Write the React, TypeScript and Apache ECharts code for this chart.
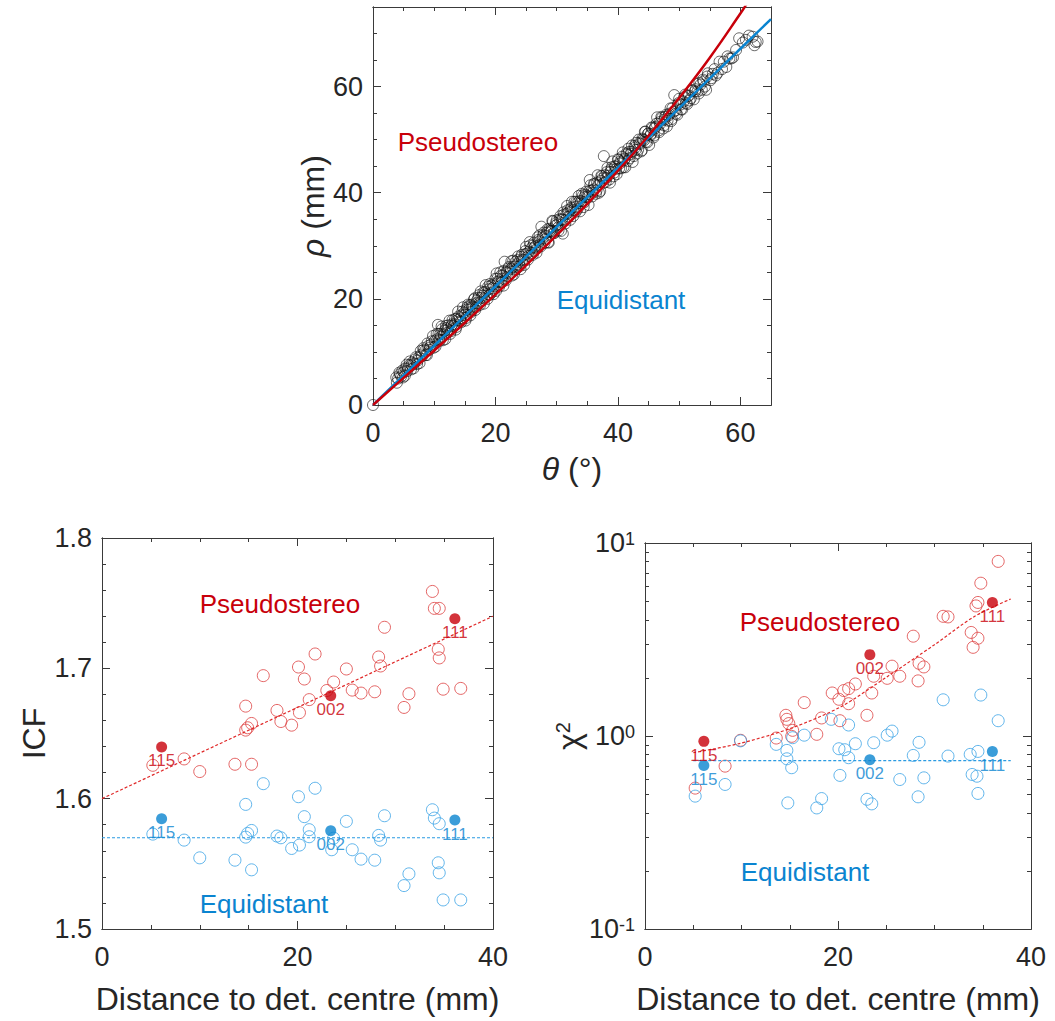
import React, { useEffect, useRef } from 'react';
import * as echarts from 'echarts';

const FONT = '"Liberation Sans", Arial, Helvetica, sans-serif';
const RED = '#C8000A';
const BLUE = '#0A84D0';
const RED_OPEN = '#DD4040';
const BLUE_OPEN = '#3AA2E6';
const AXIS_COLOR = '#3a3a3a';
const TEXT_COLOR = '#262626';
const TICK_FONT = 27;
const NAME_FONT = 32;

// ---------- Top panel: rho vs theta (two measurement passes) ----------
const rhoThetaSamplesA: number[][] = [
  [0, 0],
  [3.8, 5.2], [4.1, 5.0], [4.3, 6.1], [4.6, 5.4], [4.8, 6.5], [5.0, 6.2], [5.2, 5.5], [5.5, 7.6], [5.7, 6.9], [5.9, 7.5],
  [6.2, 6.7], [6.4, 8.0], [6.7, 7.8], [7.0, 9.0], [7.2, 7.7], [7.5, 9.0], [7.8, 10.2], [8.0, 9.2], [8.2, 10.7], [8.5, 10.2],
  [8.8, 9.4], [9.0, 11.1], [9.3, 10.8], [9.6, 12.0], [9.9, 10.8],
  [10.1, 12.1], [10.4, 13.4], [10.6, 15.1], [10.8, 12.3], [11.0, 13.4], [11.2, 14.8], [11.4, 12.2], [11.7, 14.0], [11.9, 14.9],
  [12.1, 13.6], [12.3, 15.0], [12.6, 13.4], [12.8, 14.9], [13.0, 16.0], [13.3, 15.2], [13.5, 14.2], [13.7, 16.3], [13.9, 17.6],
  [14.2, 16.3], [14.4, 15.6], [14.6, 17.6], [14.9, 17.4], [15.1, 15.9], [15.3, 18.0], [15.5, 18.9], [15.8, 18.8], [16.0, 17.5],
  [16.2, 18.6], [16.5, 19.9], [16.7, 17.9], [16.9, 19.2], [17.2, 20.2], [17.4, 19.2], [17.6, 21.4], [17.9, 20.6], [18.1, 19.1],
  [18.3, 21.3], [18.6, 20.9], [18.8, 22.3], [19.0, 20.7], [19.3, 22.5], [19.5, 22.0], [19.7, 20.9], [20.0, 23.8], [20.2, 24.8],
  [20.4, 23.3], [20.6, 22.3], [20.9, 24.4], [21.1, 23.8], [21.3, 22.5], [21.5, 27.0], [21.8, 25.1], [22.0, 24.2], [22.2, 26.0],
  [22.5, 25.6], [22.7, 24.4], [22.9, 27.2], [23.2, 26.1], [23.4, 25.6], [23.6, 27.3], [23.9, 27.0], [24.1, 25.6], [24.3, 28.3],
  [24.6, 27.3], [24.8, 28.4], [25.0, 29.8], [25.3, 27.4], [25.5, 28.9], [25.7, 30.1], [26.0, 28.6], [26.2, 30.1], [26.4, 29.7],
  [26.7, 28.7], [26.9, 31.6], [27.1, 30.8], [27.3, 30.2], [27.5, 33.6], [27.8, 32.0], [28.0, 30.5], [28.2, 31.9], [28.5, 33.1],
  [28.7, 30.6], [28.9, 32.9], [29.2, 32.8], [29.4, 34.6], [29.6, 32.4], [29.9, 34.3],
  [30.1, 34.0], [30.3, 32.9], [30.6, 35.6], [30.8, 35.0], [31.0, 32.3], [31.2, 35.9], [31.5, 34.9], [31.7, 37.5], [31.9, 36.3],
  [32.2, 34.9], [32.4, 37.2], [32.6, 36.7], [32.9, 38.3], [33.1, 36.4], [33.3, 38.0], [33.6, 39.4], [33.8, 36.5], [34.0, 38.4],
  [34.3, 39.5], [34.5, 38.2], [34.7, 39.6], [35.0, 39.3], [35.2, 37.7], [35.4, 42.4], [35.7, 40.4], [35.9, 40.0], [36.1, 41.7],
  [36.4, 39.8], [36.6, 41.9], [36.8, 41.5], [37.1, 40.3], [37.3, 43.2], [37.5, 42.7], [37.7, 46.9], [38.0, 42.0], [38.2, 43.9],
  [38.4, 43.2], [38.7, 41.9], [38.9, 44.4], [39.1, 45.9], [39.4, 43.8], [39.6, 44.9], [39.8, 43.5],
  [40.1, 46.2], [40.3, 45.5], [40.5, 44.6], [40.8, 47.6], [41.0, 46.1], [41.2, 44.8], [41.5, 47.2], [41.7, 48.3], [41.9, 46.5],
  [42.2, 47.7], [42.4, 45.8], [42.7, 48.8], [42.9, 48.1], [43.1, 47.4], [43.4, 50.0], [43.6, 49.2], [43.9, 48.0], [44.1, 50.0],
  [44.4, 51.5], [44.6, 49.6], [44.9, 51.1], [45.1, 49.0], [45.4, 51.1], [45.6, 52.2], [45.9, 50.8], [46.1, 52.4], [46.4, 54.2],
  [46.7, 51.4], [46.9, 53.0], [47.2, 54.1], [47.5, 52.7], [47.7, 54.3], [48.0, 52.5], [48.3, 54.6], [48.6, 55.9], [48.8, 53.9],
  [49.2, 58.4], [49.4, 55.5], [49.7, 54.7], [49.9, 56.9],
  [50.2, 56.6], [50.5, 55.7], [50.8, 58.0], [51.1, 56.9], [51.4, 58.2], [51.7, 57.4], [52.0, 59.2], [52.4, 57.6], [52.7, 59.5],
  [53.0, 59.1], [53.3, 60.7], [53.7, 59.4], [54.0, 61.0], [54.4, 59.4], [54.7, 62.5], [55.1, 61.2], [55.5, 62.4], [56.0, 62.1],
  [56.6, 64.7], [57.0, 63.3], [57.7, 63.7], [58.2, 65.3], [58.8, 65.5], [59.8, 69.1], [60.4, 68.3], [60.9, 68.8], [62.0, 69.4],
  [62.3, 67.8], [62.8, 68.5],
];
const rhoThetaSamplesB: number[][] = [
  [3.9, 4.2], [4.4, 5.8], [4.9, 5.2], [5.3, 6.9], [5.6, 6.4], [6.0, 8.2], [6.3, 7.5], [6.6, 6.9], [6.9, 8.6], [7.3, 8.4],
  [7.6, 7.9], [7.9, 9.5], [8.3, 10.4], [8.6, 9.4], [8.9, 11.6], [9.2, 10.4], [9.5, 11.4], [9.8, 13.0], [10.2, 11.0], [10.5, 12.4],
  [10.7, 13.4], [10.9, 12.1], [11.1, 12.9], [11.3, 14.3], [11.6, 13.3], [11.8, 12.4], [12.0, 14.5], [12.2, 14.2], [12.5, 15.9],
  [12.7, 13.9], [12.9, 15.2], [13.2, 14.9], [13.4, 16.2], [13.6, 14.7], [13.8, 16.0], [14.0, 16.7], [14.3, 15.8], [14.5, 16.9],
  [14.7, 18.4], [15.0, 17.0], [15.2, 16.4], [15.4, 18.4], [15.7, 18.0], [15.9, 16.9], [16.1, 18.9], [16.3, 18.4], [16.6, 20.1],
  [16.8, 18.4], [17.0, 19.7], [17.3, 20.7], [17.5, 18.9], [17.7, 20.2], [18.0, 21.2], [18.2, 20.1], [18.4, 22.6], [18.7, 20.0],
  [18.9, 21.8], [19.1, 22.8], [19.4, 21.2], [19.6, 22.7], [19.8, 22.4], [20.1, 21.5], [20.3, 23.8], [20.5, 23.2], [20.8, 25.0],
  [21.0, 23.1], [21.2, 24.4], [21.4, 25.3], [21.7, 23.5], [21.9, 24.9], [22.1, 25.7], [22.3, 24.8], [22.6, 27.1], [22.8, 26.0],
  [23.0, 24.6], [23.3, 27.0], [23.5, 26.5], [23.7, 28.0], [24.0, 26.2], [24.2, 27.9], [24.4, 27.4], [24.7, 26.4], [24.9, 29.0],
  [25.1, 28.5], [25.4, 28.1], [25.6, 30.7], [25.8, 29.5], [26.1, 28.3], [26.3, 30.6], [26.5, 29.9], [26.8, 29.5], [27.0, 31.1],
  [27.2, 32.0], [27.4, 29.9], [27.7, 31.4], [27.9, 32.5], [28.1, 31.2], [28.4, 32.5], [28.6, 30.7], [28.8, 33.2], [29.1, 32.8],
  [29.3, 34.7], [29.5, 32.4], [29.8, 33.8], [30.0, 34.8], [30.2, 33.4], [30.5, 35.0], [30.7, 32.8], [30.9, 34.9], [31.1, 36.3],
  [31.4, 34.2], [31.6, 36.0], [31.8, 36.7], [32.0, 35.5], [32.3, 36.9], [32.5, 38.3], [32.7, 35.6], [33.0, 37.3], [33.2, 38.3],
  [33.4, 36.9], [33.7, 38.4], [33.9, 38.0], [34.1, 39.8], [34.4, 37.3], [34.6, 39.2], [34.8, 40.2], [35.1, 39.1], [35.3, 40.3],
  [35.5, 41.4], [35.8, 39.3], [36.0, 40.6], [36.2, 41.6], [36.5, 40.4], [36.7, 43.3], [36.9, 40.0], [37.2, 42.2], [37.4, 43.1],
  [37.6, 41.8], [37.9, 43.3], [38.1, 42.8], [38.3, 44.7], [38.6, 42.5], [38.8, 43.9], [39.0, 44.8], [39.3, 43.1], [39.5, 45.0],
  [39.7, 44.5], [40.0, 46.3], [40.2, 44.6], [40.4, 45.9], [40.7, 46.8], [40.9, 44.8], [41.1, 46.4], [41.4, 47.4], [41.6, 46.0],
  [41.8, 47.7], [42.1, 47.3], [42.3, 48.9], [42.6, 46.9], [42.8, 48.5], [43.0, 49.4], [43.3, 48.1], [43.5, 49.4], [43.8, 47.8],
  [44.0, 50.2], [44.3, 49.9], [44.5, 51.5], [44.8, 49.5], [45.0, 51.2], [45.3, 50.8], [45.5, 52.3], [45.8, 50.4], [46.0, 52.1],
  [46.3, 53.0], [46.6, 51.7], [46.8, 53.3], [47.1, 54.3], [47.4, 52.1], [47.6, 53.8], [47.9, 54.7], [48.1, 53.6], [48.4, 54.9],
  [48.7, 53.5], [48.9, 55.9], [49.1, 55.3], [49.5, 54.9], [49.8, 56.6], [50.0, 57.7], [50.3, 55.7], [50.7, 57.2], [51.0, 58.5],
  [51.3, 56.7], [51.6, 58.3], [51.9, 57.8], [52.2, 59.3], [52.6, 59.1], [52.9, 60.5], [53.2, 58.7], [53.5, 60.4], [53.9, 61.3],
  [54.2, 60.0], [54.6, 61.9], [55.3, 61.6], [55.8, 63.3], [56.3, 62.6], [57.3, 64.7], [57.9, 65.7], [58.5, 65.3], [59.3, 66.9],
  [61.4, 69.6], [62.5, 68.4],
];
const equidistantTheta = [0, 5, 10, 15, 20, 25, 30, 35, 40, 45, 50, 55, 60, 65];
const equidistantRho = [0, 5.59, 11.19, 16.78, 22.38, 27.97, 33.56, 39.16, 44.75, 50.35, 55.94, 61.54, 67.13, 72.72];
const pseudoTheta = [0, 5, 10, 15, 20, 25, 30, 35, 40, 45, 50, 55, 60, 61, 62];
const pseudoRho = [0, 5.12, 10.27, 15.5, 20.83, 26.32, 31.99, 37.92, 44.14, 50.75, 57.84, 65.44, 73.76, 75.52, 77.3];
const thetaMajor = [0, 20, 40, 60];
const thetaMinor = [0, 5, 10, 15, 20, 25, 30, 35, 40, 45, 50, 55, 60, 65];
const rhoMajor = [0, 20, 40, 60];
const rhoMinor = [0, 5, 10, 15, 20, 25, 30, 35, 40, 45, 50, 55, 60, 65, 70, 75];

// ---------- Bottom-left: ICF ----------
const icfPseudoOpen: number[][] = [
  [33.8, 1.759], [34.0, 1.746], [34.5, 1.746], [28.9, 1.7315], [21.8, 1.711], [34.4, 1.7146], [34.5, 1.708], [28.3, 1.7087],
  [28.5, 1.7018], [20.1, 1.701], [25.0, 1.6995], [16.5, 1.6944], [20.7, 1.6918], [23.7, 1.6895], [23.0, 1.683], [25.6, 1.6833],
  [26.5, 1.681], [27.9, 1.682], [31.4, 1.6805], [34.9, 1.684], [36.7, 1.6846], [21.2, 1.676], [14.7, 1.671], [17.9, 1.6677],
  [20.2, 1.666], [30.9, 1.67], [15.3, 1.6577], [18.3, 1.6592], [19.4, 1.6564], [14.7, 1.6526], [14.9, 1.6544], [5.2, 1.6256],
  [8.4, 1.6305], [10.0, 1.6208], [13.6, 1.6264], [15.3, 1.6264],
];
const icfEquiOpen: number[][] = [
  [16.5, 1.6115], [21.8, 1.608], [20.1, 1.6015], [14.7, 1.5956], [33.8, 1.5915], [34.0, 1.5851], [34.5, 1.5808], [28.9, 1.5869],
  [20.7, 1.5862], [25.0, 1.5826], [21.2, 1.5762], [15.3, 1.5756], [14.9, 1.5733], [14.7, 1.5705], [17.9, 1.5713], [18.3, 1.57],
  [21.2, 1.5708], [28.3, 1.5718], [28.5, 1.5682], [5.2, 1.5728], [8.4, 1.5682], [23.7, 1.5697], [20.2, 1.5644], [19.4, 1.5618],
  [23.5, 1.5608], [25.6, 1.5608], [10.0, 1.5546], [13.6, 1.5528], [26.5, 1.5536], [27.9, 1.5528], [15.3, 1.5454], [34.4, 1.5508],
  [34.5, 1.5431], [31.4, 1.5423], [30.9, 1.5333], [34.9, 1.5223], [36.7, 1.5223],
];
const keyDistances = [6.1, 23.4, 36.1];
const keyLabels = ['115', '002', '111'];
const icfPseudoKey = [1.6397, 1.679, 1.738];
const icfEquiKey = [1.5846, 1.5754, 1.5836];
const icfPseudoFitX = [0, 40];
const icfPseudoFitY = [1.6, 1.74];
const icfEquiFitX = [0, 40];
const icfEquiFitY = [1.57, 1.57];
const distMajor = [0, 20, 40];
const distMinor = [0, 5, 10, 15, 20, 25, 30, 35, 40];
const icfMajor = [1.5, 1.6, 1.7, 1.8];
const icfMinor = [1.5, 1.52, 1.54, 1.56, 1.58, 1.6, 1.62, 1.64, 1.66, 1.68, 1.7, 1.72, 1.74, 1.76, 1.78, 1.8];

// ---------- Bottom-right: chi^2 ----------
const chiPseudoOpen: number[][] = [
  [36.6, 8.03], [34.8, 6.19], [34.5, 4.92], [34.3, 4.72], [30.9, 4.17], [31.4, 4.14], [27.8, 3.29], [33.8, 3.44], [34.5, 3.21],
  [34.0, 2.88], [25.6, 2.3], [28.4, 2.38], [28.9, 2.28], [26.4, 2.04], [25.1, 1.99], [23.7, 2.04], [28.3, 1.93], [21.8, 1.86],
  [21.1, 1.76], [20.6, 1.72], [19.4, 1.67], [23.5, 1.67], [20.1, 1.55], [21.1, 1.47], [16.5, 1.49], [14.6, 1.28], [14.7, 1.22],
  [14.9, 1.16], [18.3, 1.24], [20.2, 1.2], [23.0, 1.28], [15.3, 1.07], [15.2, 0.996], [17.8, 1.02], [13.6, 0.976], [9.9, 0.95],
  [8.3, 0.698], [5.2, 0.537],
];
const chiEquiOpen: number[][] = [
  [34.8, 1.63], [30.9, 1.54], [36.6, 1.2], [19.3, 1.22], [21.1, 1.14], [16.5, 1.01], [15.3, 0.98], [25.6, 1.06], [25.1, 1.01],
  [13.6, 0.905], [21.8, 0.912], [23.7, 0.923], [28.4, 0.927], [20.1, 0.859], [20.7, 0.849], [14.7, 0.842], [14.7, 0.762],
  [15.2, 0.685], [21.1, 0.772], [27.8, 0.793], [31.4, 0.787], [33.7, 0.803], [34.5, 0.832], [20.2, 0.625], [26.4, 0.595],
  [28.9, 0.607], [33.9, 0.632], [34.4, 0.619], [8.3, 0.561], [5.2, 0.488], [18.3, 0.474], [17.8, 0.424], [14.8, 0.45],
  [23.0, 0.47], [23.5, 0.445], [28.3, 0.484], [34.5, 0.504], [9.9, 0.944],
];
const chiKeyDistances = [6.1, 23.3, 36.0];
const chiPseudoKey = [0.938, 2.64, 4.92];
const chiEquiKey = [0.704, 0.753, 0.832];
const chiPseudoFitX = [5, 9.9, 15.1, 20.3, 25.1, 29.95, 34.1, 37.9];
const chiPseudoFitY = [0.819, 0.917, 1.096, 1.418, 2.03, 2.96, 4.15, 5.13];
const chiEquiFitX = [5, 37.9];
const chiEquiFitY = [0.745, 0.745];
const chiMajor = [0.1, 1, 10];
const chiMinor = [0.2, 0.3, 0.4, 0.5, 0.6, 0.7, 0.8, 0.9, 2, 3, 4, 5, 6, 7, 8, 9];

const zip = (xs: number[], ys: number[]) => xs.map((x, i) => [x, ys[i]]);

type Spec = {
  type: 'value' | 'log';
  min: number;
  max: number;
  majors: number[];
  minors: number[];
  formatter?: any;
  rich?: any;
  name?: string;
  nameGap?: number;
  nameRotate?: number;
  nameRich?: any;
  labelMargin?: number;
};

function buildAxes(dim: 'x' | 'y', gridIndex: number, s: Spec) {
  const primary = dim === 'x' ? 'bottom' : 'left';
  const mirror = dim === 'x' ? 'top' : 'right';
  const make = (pos: string, vals: number[], len: number, withLabels: boolean) => {
    const ax: any = {
      type: s.type,
      gridIndex,
      min: s.min,
      max: s.max,
      position: pos,
      axisLine: { show: true, onZero: false, lineStyle: { color: AXIS_COLOR, width: 1 } },
      axisTick: { show: true, inside: true, length: len, customValues: vals, lineStyle: { color: AXIS_COLOR, width: 1 } },
      axisLabel: withLabels
        ? {
            show: true,
            customValues: s.majors,
            margin: s.labelMargin ?? (dim === 'x' ? 14 : 10),
            color: TEXT_COLOR,
            fontSize: TICK_FONT,
            fontFamily: FONT,
            formatter: s.formatter,
            rich: s.rich,
          }
        : { show: false },
      splitLine: { show: false },
      minorTick: { show: false },
      minorSplitLine: { show: false },
    };
    if (s.type === 'log') ax.logBase = 10;
    if (withLabels && s.name) {
      ax.name = s.name;
      ax.nameLocation = 'middle';
      ax.nameGap = s.nameGap;
      ax.nameRotate = s.nameRotate;
      ax.nameTextStyle = { color: TEXT_COLOR, fontSize: NAME_FONT, fontFamily: FONT, rich: s.nameRich };
    }
    return ax;
  };
  return [
    make(primary, s.majors, 8, true),
    make(primary, s.minors, 4, false),
    make(mirror, s.majors, 8, false),
    make(mirror, s.minors, 4, false),
  ];
}

const openCircle = (color: string) => ({ color: 'rgba(0,0,0,0)', borderColor: color, borderWidth: 1 });

export default function App() {
  const ref = useRef<HTMLDivElement>(null);
  useEffect(() => {
    if (!ref.current) return;
    const chart = echarts.init(ref.current, undefined, { renderer: 'svg' });
    const italic = { i: { fontStyle: 'italic', fontSize: NAME_FONT, fontFamily: FONT, color: TEXT_COLOR } };

    const xAxes = [
      ...buildAxes('x', 0, {
        type: 'value', min: 0, max: 65, majors: thetaMajor, minors: thetaMinor,
        name: '{i|θ} (°)', nameGap: 48, nameRich: italic,
      }),
      ...buildAxes('x', 1, {
        type: 'value', min: 0, max: 40, majors: distMajor, minors: distMinor,
        name: 'Distance to det. centre (mm)', nameGap: 54,
      }),
      ...buildAxes('x', 2, {
        type: 'value', min: 0, max: 40, majors: distMajor, minors: distMinor,
        name: 'Distance to det. centre (mm)', nameGap: 54,
      }),
    ];
    const yAxes = [
      ...buildAxes('y', 0, {
        type: 'value', min: 0, max: 75, majors: rhoMajor, minors: rhoMinor,
        name: '{i|ρ} (mm)', nameGap: 40, nameRotate: 90, nameRich: italic,
      }),
      ...buildAxes('y', 1, {
        type: 'value', min: 1.5, max: 1.8, majors: icfMajor, minors: icfMinor,
        formatter: (v: number) => v.toFixed(1),
        name: 'ICF', nameGap: 52, nameRotate: 90,
      }),
      ...buildAxes('y', 2, {
        type: 'log', min: 0.1, max: 10, majors: chiMajor, minors: chiMinor,
        formatter: (v: number) => `{b|10}{s|${Math.round(Math.log10(v))}}`,
        rich: {
          b: { fontSize: TICK_FONT, fontFamily: FONT, color: TEXT_COLOR },
          s: { fontSize: 18, fontFamily: FONT, color: TEXT_COLOR, verticalAlign: 'top' },
        },
        name: '{a|χ}{s|2}', nameGap: 57, nameRotate: 90,
        nameRich: {
          a: { fontSize: NAME_FONT, fontFamily: FONT, color: TEXT_COLOR },
          s: { fontSize: 20, fontFamily: FONT, color: TEXT_COLOR, verticalAlign: 'top' },
        },
      }),
    ];

    const keyLabel = (color: string) => ({
      show: true,
      position: 'bottom',
      distance: 0,
      color,
      fontSize: 17,
      fontFamily: FONT,
      formatter: (p: any) => keyLabels[p.dataIndex],
    });

    const series: any[] = [
      {
        type: 'scatter', xAxisIndex: 0, yAxisIndex: 0, data: rhoThetaSamplesA.concat(rhoThetaSamplesB), symbol: 'circle',
        symbolSize: 11, itemStyle: { color: 'rgba(0,0,0,0)', borderColor: '#111111', borderWidth: 0.8 }, z: 2,
      },
      {
        type: 'line', xAxisIndex: 0, yAxisIndex: 0, data: zip(equidistantTheta, equidistantRho), showSymbol: false,
        lineStyle: { color: BLUE, width: 2.5 }, z: 3,
      },
      {
        type: 'line', xAxisIndex: 0, yAxisIndex: 0, data: zip(pseudoTheta, pseudoRho), showSymbol: false, smooth: 0.4,
        lineStyle: { color: RED, width: 2.5 }, z: 4, clip: true,
      },
      { type: 'scatter', xAxisIndex: 4, yAxisIndex: 4, data: icfPseudoOpen, symbolSize: 12, itemStyle: openCircle(RED_OPEN), z: 2 },
      { type: 'scatter', xAxisIndex: 4, yAxisIndex: 4, data: icfEquiOpen, symbolSize: 12, itemStyle: openCircle(BLUE_OPEN), z: 2 },
      {
        type: 'line', xAxisIndex: 4, yAxisIndex: 4, data: zip(icfPseudoFitX, icfPseudoFitY), showSymbol: false,
        lineStyle: { color: '#E02828', width: 1.2, type: [3, 2] }, z: 3,
      },
      {
        type: 'line', xAxisIndex: 4, yAxisIndex: 4, data: zip(icfEquiFitX, icfEquiFitY), showSymbol: false,
        lineStyle: { color: '#2A9BE2', width: 1.2, type: [3, 2] }, z: 3,
      },
      {
        type: 'scatter', xAxisIndex: 4, yAxisIndex: 4, data: zip(keyDistances, icfPseudoKey), symbolSize: 11,
        itemStyle: { color: RED }, label: keyLabel(RED), z: 5,
      },
      {
        type: 'scatter', xAxisIndex: 4, yAxisIndex: 4, data: zip(keyDistances, icfEquiKey), symbolSize: 11,
        itemStyle: { color: BLUE }, label: keyLabel(BLUE), z: 5,
      },
      { type: 'scatter', xAxisIndex: 8, yAxisIndex: 8, data: chiPseudoOpen, symbolSize: 12, itemStyle: openCircle(RED_OPEN), z: 2 },
      { type: 'scatter', xAxisIndex: 8, yAxisIndex: 8, data: chiEquiOpen, symbolSize: 12, itemStyle: openCircle(BLUE_OPEN), z: 2 },
      {
        type: 'line', xAxisIndex: 8, yAxisIndex: 8, data: zip(chiPseudoFitX, chiPseudoFitY), showSymbol: false, smooth: 0.3,
        lineStyle: { color: '#E02828', width: 1.2, type: [3, 2] }, z: 3,
      },
      {
        type: 'line', xAxisIndex: 8, yAxisIndex: 8, data: zip(chiEquiFitX, chiEquiFitY), showSymbol: false,
        lineStyle: { color: '#2A9BE2', width: 1.2, type: [3, 2] }, z: 3,
      },
      {
        type: 'scatter', xAxisIndex: 8, yAxisIndex: 8, data: zip(chiKeyDistances, chiPseudoKey), symbolSize: 11,
        itemStyle: { color: RED }, label: keyLabel(RED), z: 5,
      },
      {
        type: 'scatter', xAxisIndex: 8, yAxisIndex: 8, data: zip(chiKeyDistances, chiEquiKey), symbolSize: 11,
        itemStyle: { color: BLUE }, label: keyLabel(BLUE), z: 5,
      },
    ];

    const txt = (text: string, x: number, y: number, color: string) => ({
      type: 'text',
      x,
      y,
      z: 10,
      style: {
        text, fill: color, fontSize: 26, fontFamily: FONT,
        align: 'center', verticalAlign: 'middle', textAlign: 'center', textVerticalAlign: 'middle',
      },
    });

    chart.setOption({
      animation: false,
      backgroundColor: '#ffffff',
      textStyle: { fontFamily: FONT },
      grid: [
        { left: 373, top: 7, width: 398, height: 398 },
        { left: 102, top: 538, width: 391, height: 391 },
        { left: 645, top: 543, width: 386, height: 386 },
      ],
      xAxis: xAxes,
      yAxis: yAxes,
      series,
      graphic: [
        txt('Pseudostereo', 478, 142, RED),
        txt('Equidistant', 621, 300, BLUE),
        txt('Pseudostereo', 280, 604, RED),
        txt('Equidistant', 264, 904, BLUE),
        txt('Pseudostereo', 820, 622, RED),
        txt('Equidistant', 805, 872, BLUE),
      ],
    });
    return () => chart.dispose();
  }, []);
  return <div ref={ref} style={{ position: 'fixed', left: 0, top: 0, width: 1055, height: 1021, background: '#fff' }} />;
}
